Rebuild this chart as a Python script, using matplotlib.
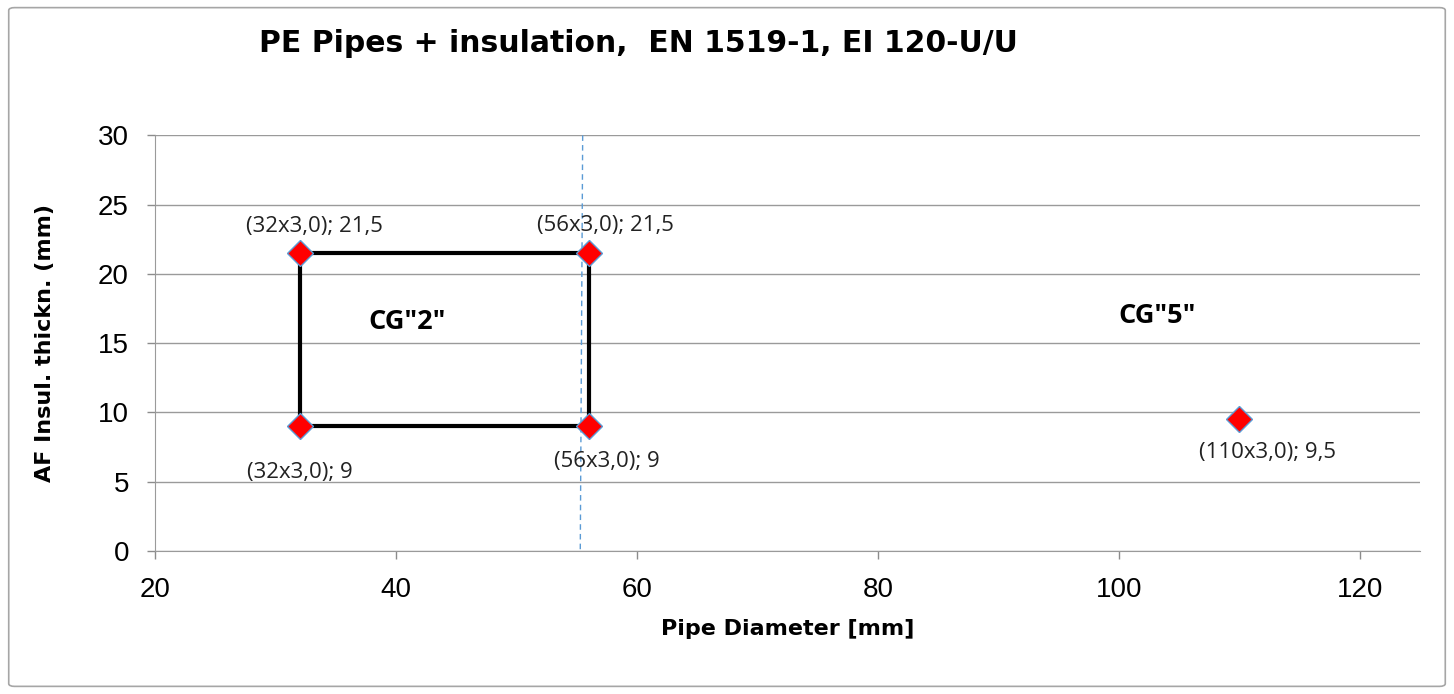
import matplotlib
matplotlib.use("Agg")
import matplotlib.pyplot as plt
from matplotlib.patches import FancyBboxPatch

# data
pipe_d = [32, 32, 56, 56, 110]
insul = [21.5, 9, 21.5, 9, 9.5]
labels = ["(32x3,0); 21,5", "(32x3,0); 9", "(56x3,0); 21,5", "(56x3,0); 9", "(110x3,0); 9,5"]

box_x = [32, 32, 56, 56, 32]
box_y = [9, 21.5, 21.5, 9, 9]

ref_x = [55.5, 55.3]
ref_y = [30, 0]

zones = ["CG\"2\"", "CG\"5\""]
zone_x = [40.9, 103.2]
zone_y = [16.5, 16.95]

xticks = [20, 40, 60, 80, 100, 120]
yticks = [0, 5, 10, 15, 20, 25, 30]

# label offsets from the marker, in pixels (as placed in the original)
lbl_off = [(15, 27), (0, -46), (17, 28), (18, -35), (28, -33)]

fig = plt.figure(figsize=(14.54, 6.94), dpi=100)
fig.patches.append(FancyBboxPatch((0.006, 0.011), 0.988, 0.978,
                                  boxstyle="round,pad=0,rounding_size=0.004",
                                  transform=fig.transFigure, fill=False,
                                  edgecolor="#a6a6a6", lw=1.2))
ax = fig.add_axes([0.1066, 0.206, 0.8700, 0.599])

ax.plot(box_x, box_y, color="black", lw=3, zorder=2)
ax.plot(ref_x, ref_y, color="#5b9bd5", lw=1, ls=(0, (4, 3)), zorder=2)
ax.plot(pipe_d, insul, ls="none", marker="D", ms=13, mfc="red",
        mec="#5b9bd5", mew=1, zorder=3)

for x, y, s, (dx, dy) in zip(pipe_d, insul, labels, lbl_off):
    ax.annotate(s, (x, y), xytext=(dx, dy), textcoords="offset pixels",
                ha="center", va="center", fontsize=16, family="Open Sans",
                color="#222222")

for s, x, y in zip(zones, zone_x, zone_y):
    ax.text(x, y, s, ha="center", va="center", fontsize=19.5,
            fontweight="bold", family="Open Sans")

ax.set_xlim(20, 125)
ax.set_ylim(0, 30)
ax.set_xticks(xticks)
ax.set_yticks(yticks)
ax.tick_params(labelsize=20, colors="#8c8c8c", labelcolor="black",
               length=5.8, width=1, pad=13)
for lbl in ax.get_xticklabels() + ax.get_yticklabels():
    lbl.set_family("Liberation Sans")
ax.grid(axis="y", color="#9a9a9a", lw=1)
ax.set_axisbelow(True)
for side in ["top", "right"]:
    ax.spines[side].set_visible(False)
for side in ["left", "bottom"]:
    ax.spines[side].set_color("#9a9a9a")

ax.set_xlabel("Pipe Diameter [mm]", fontsize=16, fontweight="bold")
ax.set_ylabel("AF Insul. thickn. (mm)", fontsize=16, fontweight="bold")
ax.xaxis.set_label_coords(0.5, -0.1635)
ax.yaxis.set_label_coords(-0.0791, 0.5)

fig.text(0.439, 0.925, "PE Pipes + insulation,  EN 1519-1, EI 120-U/U",
         ha="center", va="baseline", fontsize=21.5, fontweight="bold")

fig.savefig("out.png", dpi=100, facecolor="white")
